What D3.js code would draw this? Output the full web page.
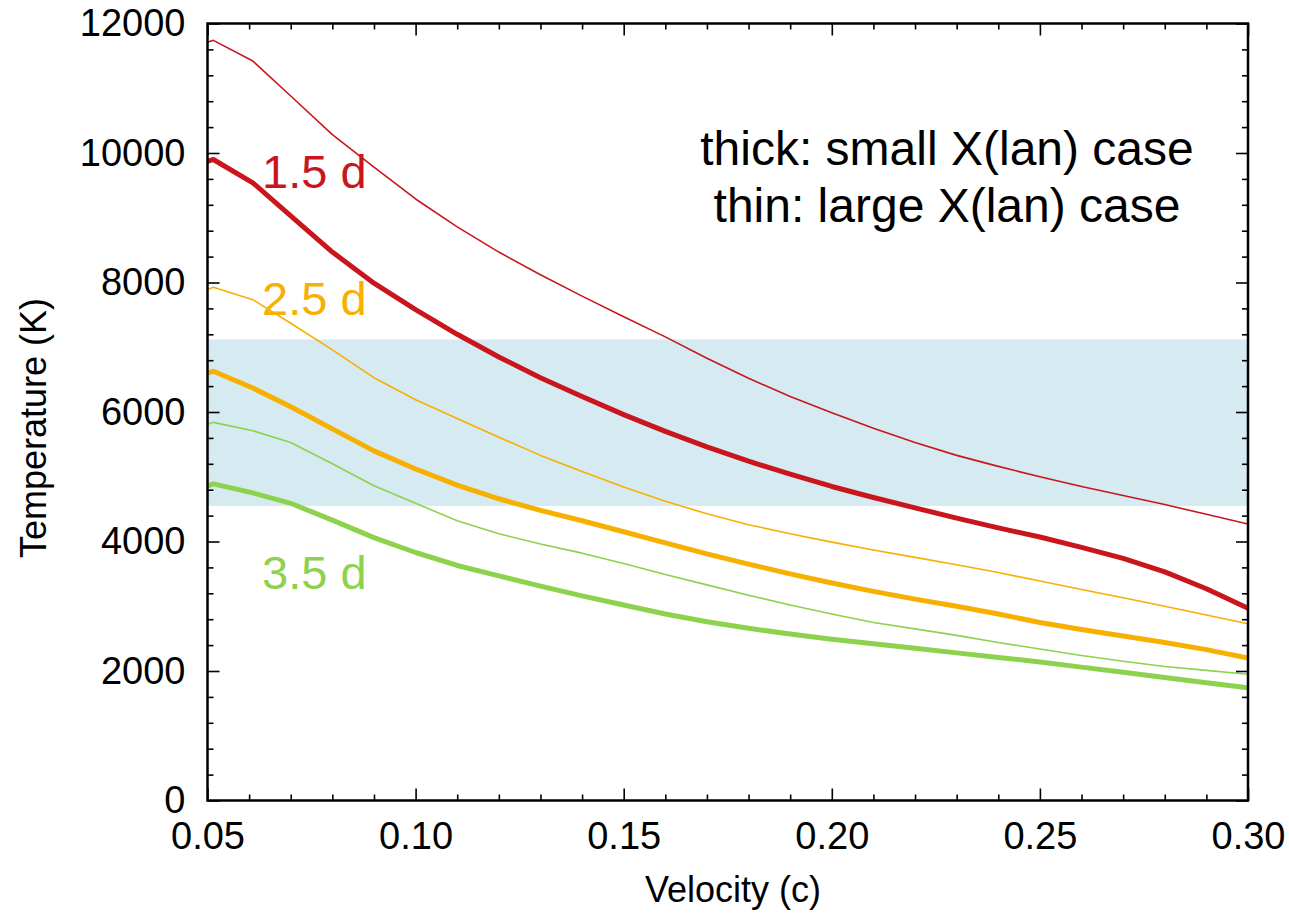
<!DOCTYPE html>
<html>
<head>
<meta charset="utf-8">
<script src="https://cdn.jsdelivr.net/npm/d3@7"></script>
<style>
  html, body { margin: 0; padding: 0; background: #fff; }
  svg { display: block; }
  text { font-family: "Liberation Sans", Arial, Helvetica, sans-serif; fill: #000; }
</style>
</head>
<body>
<svg id="chart" width="1289" height="914"></svg>
<script>
// Photospheric velocity grid (units of c)
const velocity = [0.050, 0.0514, 0.0609,
  0.07, 0.08, 0.09, 0.10, 0.11, 0.12, 0.13, 0.14, 0.15, 0.16, 0.17, 0.18,
  0.19, 0.20, 0.21, 0.22, 0.23, 0.24, 0.25, 0.26, 0.27, 0.28, 0.29, 0.30];

// Temperature (K) — thick: small X(lan), thin: large X(lan)
const t15Thick = [9870, 9900, 9540,
  9030, 8470, 7990, 7580, 7200, 6850, 6530, 6240, 5960, 5700, 5460, 5240,
  5040, 4850, 4680, 4520, 4360, 4210, 4070, 3910, 3740, 3530, 3270, 2970];
const t15Thin  = [11710, 11740, 11420,
  10880, 10285, 9780, 9290, 8860, 8470, 8120, 7790, 7470, 7160, 6830, 6520,
  6240, 5990, 5750, 5530, 5330, 5160, 5000, 4850, 4710, 4570, 4420, 4270];
const t25Thick = [6600, 6630, 6370,
  6080, 5740, 5400, 5120, 4870, 4660, 4480, 4320, 4150, 3980, 3810, 3650,
  3500, 3360, 3230, 3110, 3000, 2880, 2750, 2640, 2540, 2440, 2330, 2200];
const t25Thin  = [7890, 7925, 7735,
  7370, 6960, 6530, 6190, 5900, 5610, 5330, 5080, 4840, 4620, 4430, 4260,
  4120, 3990, 3870, 3755, 3640, 3520, 3390, 3260, 3130, 3000, 2865, 2730];
const t35Thick = [4860, 4890, 4750,
  4590, 4330, 4060, 3830, 3630, 3470, 3310, 3160, 3020, 2880, 2760, 2660,
  2570, 2490, 2420, 2350, 2280, 2210, 2140, 2060, 1980, 1900, 1820, 1740];
const t35Thin  = [5810, 5840, 5710,
  5530, 5200, 4860, 4590, 4320, 4120, 3960, 3820, 3660, 3490, 3330, 3170,
  3020, 2880, 2750, 2650, 2550, 2440, 2340, 2240, 2150, 2070, 2010, 1950];

const epochs = ["1.5 d", "2.5 d", "3.5 d"];
const epochColors = ["#c9161d", "#f7b000", "#8cd24c"];
const epochLabelT = [9466, 7503, 3271];

// Observed temperature range (shaded band)
const bandRange = [4550, 7120];

const xTicks = [0.05, 0.10, 0.15, 0.20, 0.25, 0.30];
const yTicks = [0, 2000, 4000, 6000, 8000, 10000, 12000];

const series = [
  { t: t15Thick, c: 0, w: 5 }, { t: t15Thin, c: 0, w: 1.6 },
  { t: t25Thick, c: 1, w: 5 }, { t: t25Thin, c: 1, w: 1.6 },
  { t: t35Thick, c: 2, w: 5 }, { t: t35Thin, c: 2, w: 1.6 }
];

const svg = d3.select("#chart");
const L = 207.5, R = 1248, T = 23.5, B = 800.5;

const x = d3.scaleLinear().domain([0.05, 0.30]).range([L, R]);
const y = d3.scaleLinear().domain([0, 12000]).range([B, T]);

svg.append("defs").append("clipPath").attr("id", "plotclip")
  .append("rect").attr("x", L).attr("y", T).attr("width", R - L).attr("height", B - T);

// shaded band
svg.append("rect")
  .attr("x", L).attr("width", R - L)
  .attr("y", y(bandRange[1])).attr("height", y(bandRange[0]) - y(bandRange[1]))
  .attr("fill", "#d6eaf1");

// curves
const line = d3.line()
  .x((d, i) => x(velocity[i]))
  .y(d => y(d));

const plot = svg.append("g").attr("clip-path", "url(#plotclip)");
series.forEach(s => {
  plot.append("path")
    .attr("d", line(s.t))
    .attr("fill", "none")
    .attr("stroke", epochColors[s.c])
    .attr("stroke-width", s.w)
    .attr("stroke-linejoin", "round");
});

// axes: ticks inside, mirrored on all sides
const xMinor = d3.range(0.05, 0.3001, 0.01).filter(v => !xTicks.some(t => Math.abs(t - v) < 1e-6));
const yMinor = d3.range(0, 12001, 400).filter(v => v % 2000 !== 0);

function addAxis(axisGen, transform) {
  const g = svg.append("g").attr("transform", transform).call(axisGen);
  g.select(".domain").remove();
  g.selectAll(".tick line").attr("stroke", "#000").attr("stroke-width", 1.6);
  return g;
}

// bottom
addAxis(d3.axisBottom(x).tickValues(xTicks).tickFormat(d3.format(".2f")).tickSize(-12).tickPadding(22),
  `translate(0,${B})`)
  .selectAll("text").attr("font-size", 38).attr("dy", "0.71em");
addAxis(d3.axisBottom(x).tickValues(xMinor).tickFormat("").tickSize(-6), `translate(0,${B})`);
// top
addAxis(d3.axisTop(x).tickValues(xTicks).tickFormat("").tickSize(-12), `translate(0,${T})`);
addAxis(d3.axisTop(x).tickValues(xMinor).tickFormat("").tickSize(-6), `translate(0,${T})`);
// left
addAxis(d3.axisLeft(y).tickValues(yTicks).tickFormat(d3.format("d")).tickSize(-12).tickPadding(22),
  `translate(${L},0)`)
  .selectAll("text").attr("font-size", 38);
addAxis(d3.axisLeft(y).tickValues(yMinor).tickFormat("").tickSize(-6), `translate(${L},0)`);
// right
addAxis(d3.axisRight(y).tickValues(yTicks).tickFormat("").tickSize(-12), `translate(${R},0)`);
addAxis(d3.axisRight(y).tickValues(yMinor).tickFormat("").tickSize(-6), `translate(${R},0)`);

svg.selectAll(".tick text").attr("fill", "#000").attr("font-family", "Liberation Sans, Arial, sans-serif");

// frame
svg.append("rect")
  .attr("x", L).attr("y", T).attr("width", R - L).attr("height", B - T)
  .attr("fill", "none").attr("stroke", "#000").attr("stroke-width", 2.5);

// axis titles
svg.append("text")
  .attr("x", 733).attr("y", 902)
  .attr("text-anchor", "middle").attr("font-size", 36)
  .text("Velocity (c)");

svg.append("text")
  .attr("transform", "translate(46,428) rotate(-90)")
  .attr("text-anchor", "middle").attr("font-size", 36)
  .text("Temperature (K)");

// epoch labels
epochs.forEach((e, i) => {
  svg.append("text")
    .attr("x", 262).attr("y", y(epochLabelT[i]))
    .attr("font-size", 47)
    .style("fill", epochColors[i])
    .text(e);
});

// annotation
const note = svg.append("text").attr("text-anchor", "middle").attr("font-size", 48);
note.append("tspan").attr("x", 947).attr("y", 165).text("thick: small X(lan) case");
note.append("tspan").attr("x", 947).attr("y", 222).text("thin: large X(lan) case");
</script>
</body>
</html>
